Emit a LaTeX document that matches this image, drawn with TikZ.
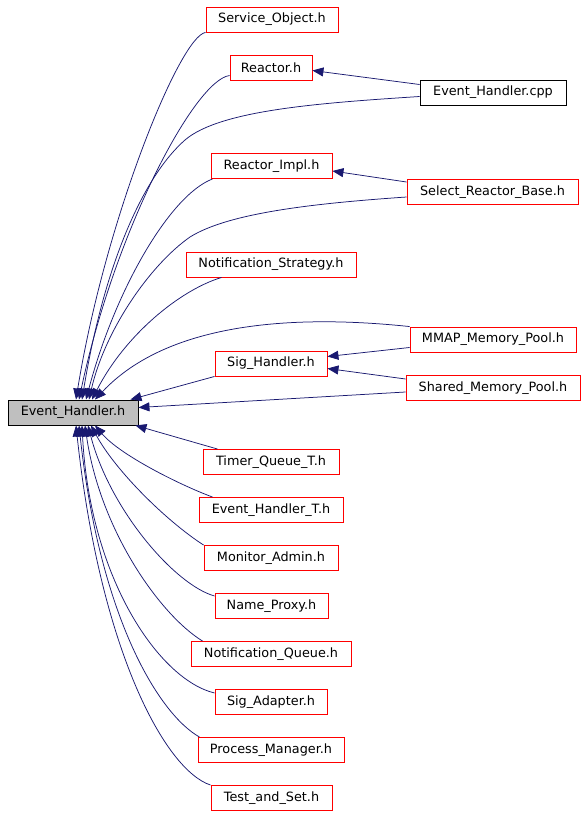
\documentclass[tikz,border=0pt]{standalone}
\usepackage{fontspec}
\setmainfont{DejaVu Sans}
\usetikzlibrary{arrows.meta}
\definecolor{navy}{RGB}{25,25,112}
\definecolor{boxgray}{RGB}{191,191,191}

\begin{document}
\begin{tikzpicture}[x=1pt, y=-1pt,
  file/.style={draw=red, line width=0.9pt, minimum height=25pt, inner sep=0pt,
    font=\fontsize{12.8}{14}\selectfont},
  dep/.style={navy, line width=0.75pt, -{Triangle[length=11pt,width=9pt]}}]

\useasboundingbox (0,0) rectangle (587,816);

% the header everything points at
\node [file, draw=black, fill=boxgray, minimum width=130pt] (eh) at (73,412.5) {Event\_Handler.h};

% middle column
\node [file, minimum width=132pt] (so)     at (272,19.5)  {Service\_Object.h};
\node [file, minimum width=82pt]  (reactor) at (271,67.5) {Reactor.h};
\node [file, minimum width=121pt] (impl)   at (271.5,166) {Reactor\_Impl.h};
\node [file, minimum width=170pt] (nstrat) at (271,264.5) {Notification\_Strategy.h};
\node [file, minimum width=112pt] (sigh)   at (271,363.5) {Sig\_Handler.h};
\node [file, minimum width=136pt] (timer)  at (271,462)   {Timer\_Queue\_T.h};
\node [file, minimum width=144pt] (eht)    at (271,510)   {Event\_Handler\_T.h};
\node [file, minimum width=134pt] (mon)    at (271,558)   {Monitor\_Admin.h};
\node [file, minimum width=113pt] (np)     at (271.5,606) {Name\_Proxy.h};
\node [file, minimum width=160pt] (nq)     at (271,654)   {Notification\_Queue.h};
\node [file, minimum width=112pt] (sa)     at (271,702)   {Sig\_Adapter.h};
\node [file, minimum width=146pt] (pm)     at (271,750)   {Process\_Manager.h};
\node [file, minimum width=121pt] (ts)     at (271.5,798) {Test\_and\_Set.h};

% right column
\node [file, draw=black, minimum width=146pt] (cpp) at (493,92.5) {Event\_Handler.cpp};
\node [file, minimum width=171pt] (select) at (492.5,192) {Select\_Reactor\_Base.h};
\node [file, minimum width=166pt] (mmap)   at (493,339.5) {MMAP\_Memory\_Pool.h};
\node [file, minimum width=174pt] (shared) at (493,388)   {Shared\_Memory\_Pool.h};

% into the top of Event_Handler.h
\draw [dep] (so.south west) .. controls (180,36) and (105,220) .. ([xshift=3pt]eh.north);
\draw [dep] ([yshift=-8pt]reactor.west) .. controls (195,80) and (115,230) .. ([xshift=6pt]eh.north);
\draw [dep] ([yshift=-4pt]cpp.west) .. controls (320,103) and (220,110) .. (185,140)
  .. controls (145,175) and (105,260) .. ([xshift=9pt]eh.north);
\draw [dep] ([xshift=2pt]impl.south west) .. controls (170,195) and (115,290) .. ([xshift=13pt]eh.north);
\draw [dep] ([yshift=-5pt]select.west) .. controls (320,203) and (230,212) .. (190,237)
  .. controls (150,265) and (105,330) .. ([xshift=16pt]eh.north);
\draw [dep] ([xshift=36pt]nstrat.south west) .. controls (180,290) and (125,335) .. ([xshift=19pt]eh.north);
\draw [dep] (mmap.north west) .. controls (300,315) and (170,320) .. ([xshift=22pt]eh.north);
\draw [dep] (sigh.south west) -- ([xshift=-8pt]eh.north east);

% right side
\draw [dep] ([yshift=-4pt]shared.west) -- ([yshift=5pt]eh.east);

% between the other files
\draw [dep] ([yshift=8pt]cpp.west) -- ([yshift=-3pt]reactor.east);
\draw [dep] ([yshift=10pt]select.west) -- ([yshift=-5pt]impl.east);
\draw [dep] ([yshift=-8pt]mmap.west) -- ([yshift=7pt]sigh.east);
\draw [dep] ([yshift=9pt]shared.west) -- ([yshift=-5pt]sigh.east);

% into the bottom of Event_Handler.h
\draw [dep] ([xshift=15pt]timer.north west) -- ([xshift=-3pt]eh.south east);
\draw [dep] ([xshift=14pt]eht.north west) .. controls (180,485) and (120,455) .. ([xshift=22pt]eh.south);
\draw [dep] (mon.north west) .. controls (165,520) and (115,470) .. ([xshift=18pt]eh.south);
\draw [dep] ([yshift=10pt]np.west) .. controls (175,585) and (110,510) .. ([xshift=15pt]eh.south);
\draw [dep] ([xshift=12pt]nq.north west) .. controls (160,615) and (100,530) .. ([xshift=12pt]eh.south);
\draw [dep] ([yshift=9pt]sa.west) .. controls (160,680) and (90,580) .. ([xshift=9pt]eh.south);
\draw [dep] ([xshift=2pt]pm.north west) .. controls (160,715) and (100,620) .. ([xshift=6pt]eh.south);
\draw [dep] (ts.north west) .. controls (165,770) and (100,650) .. ([xshift=3pt]eh.south);

\end{tikzpicture}
\end{document}
